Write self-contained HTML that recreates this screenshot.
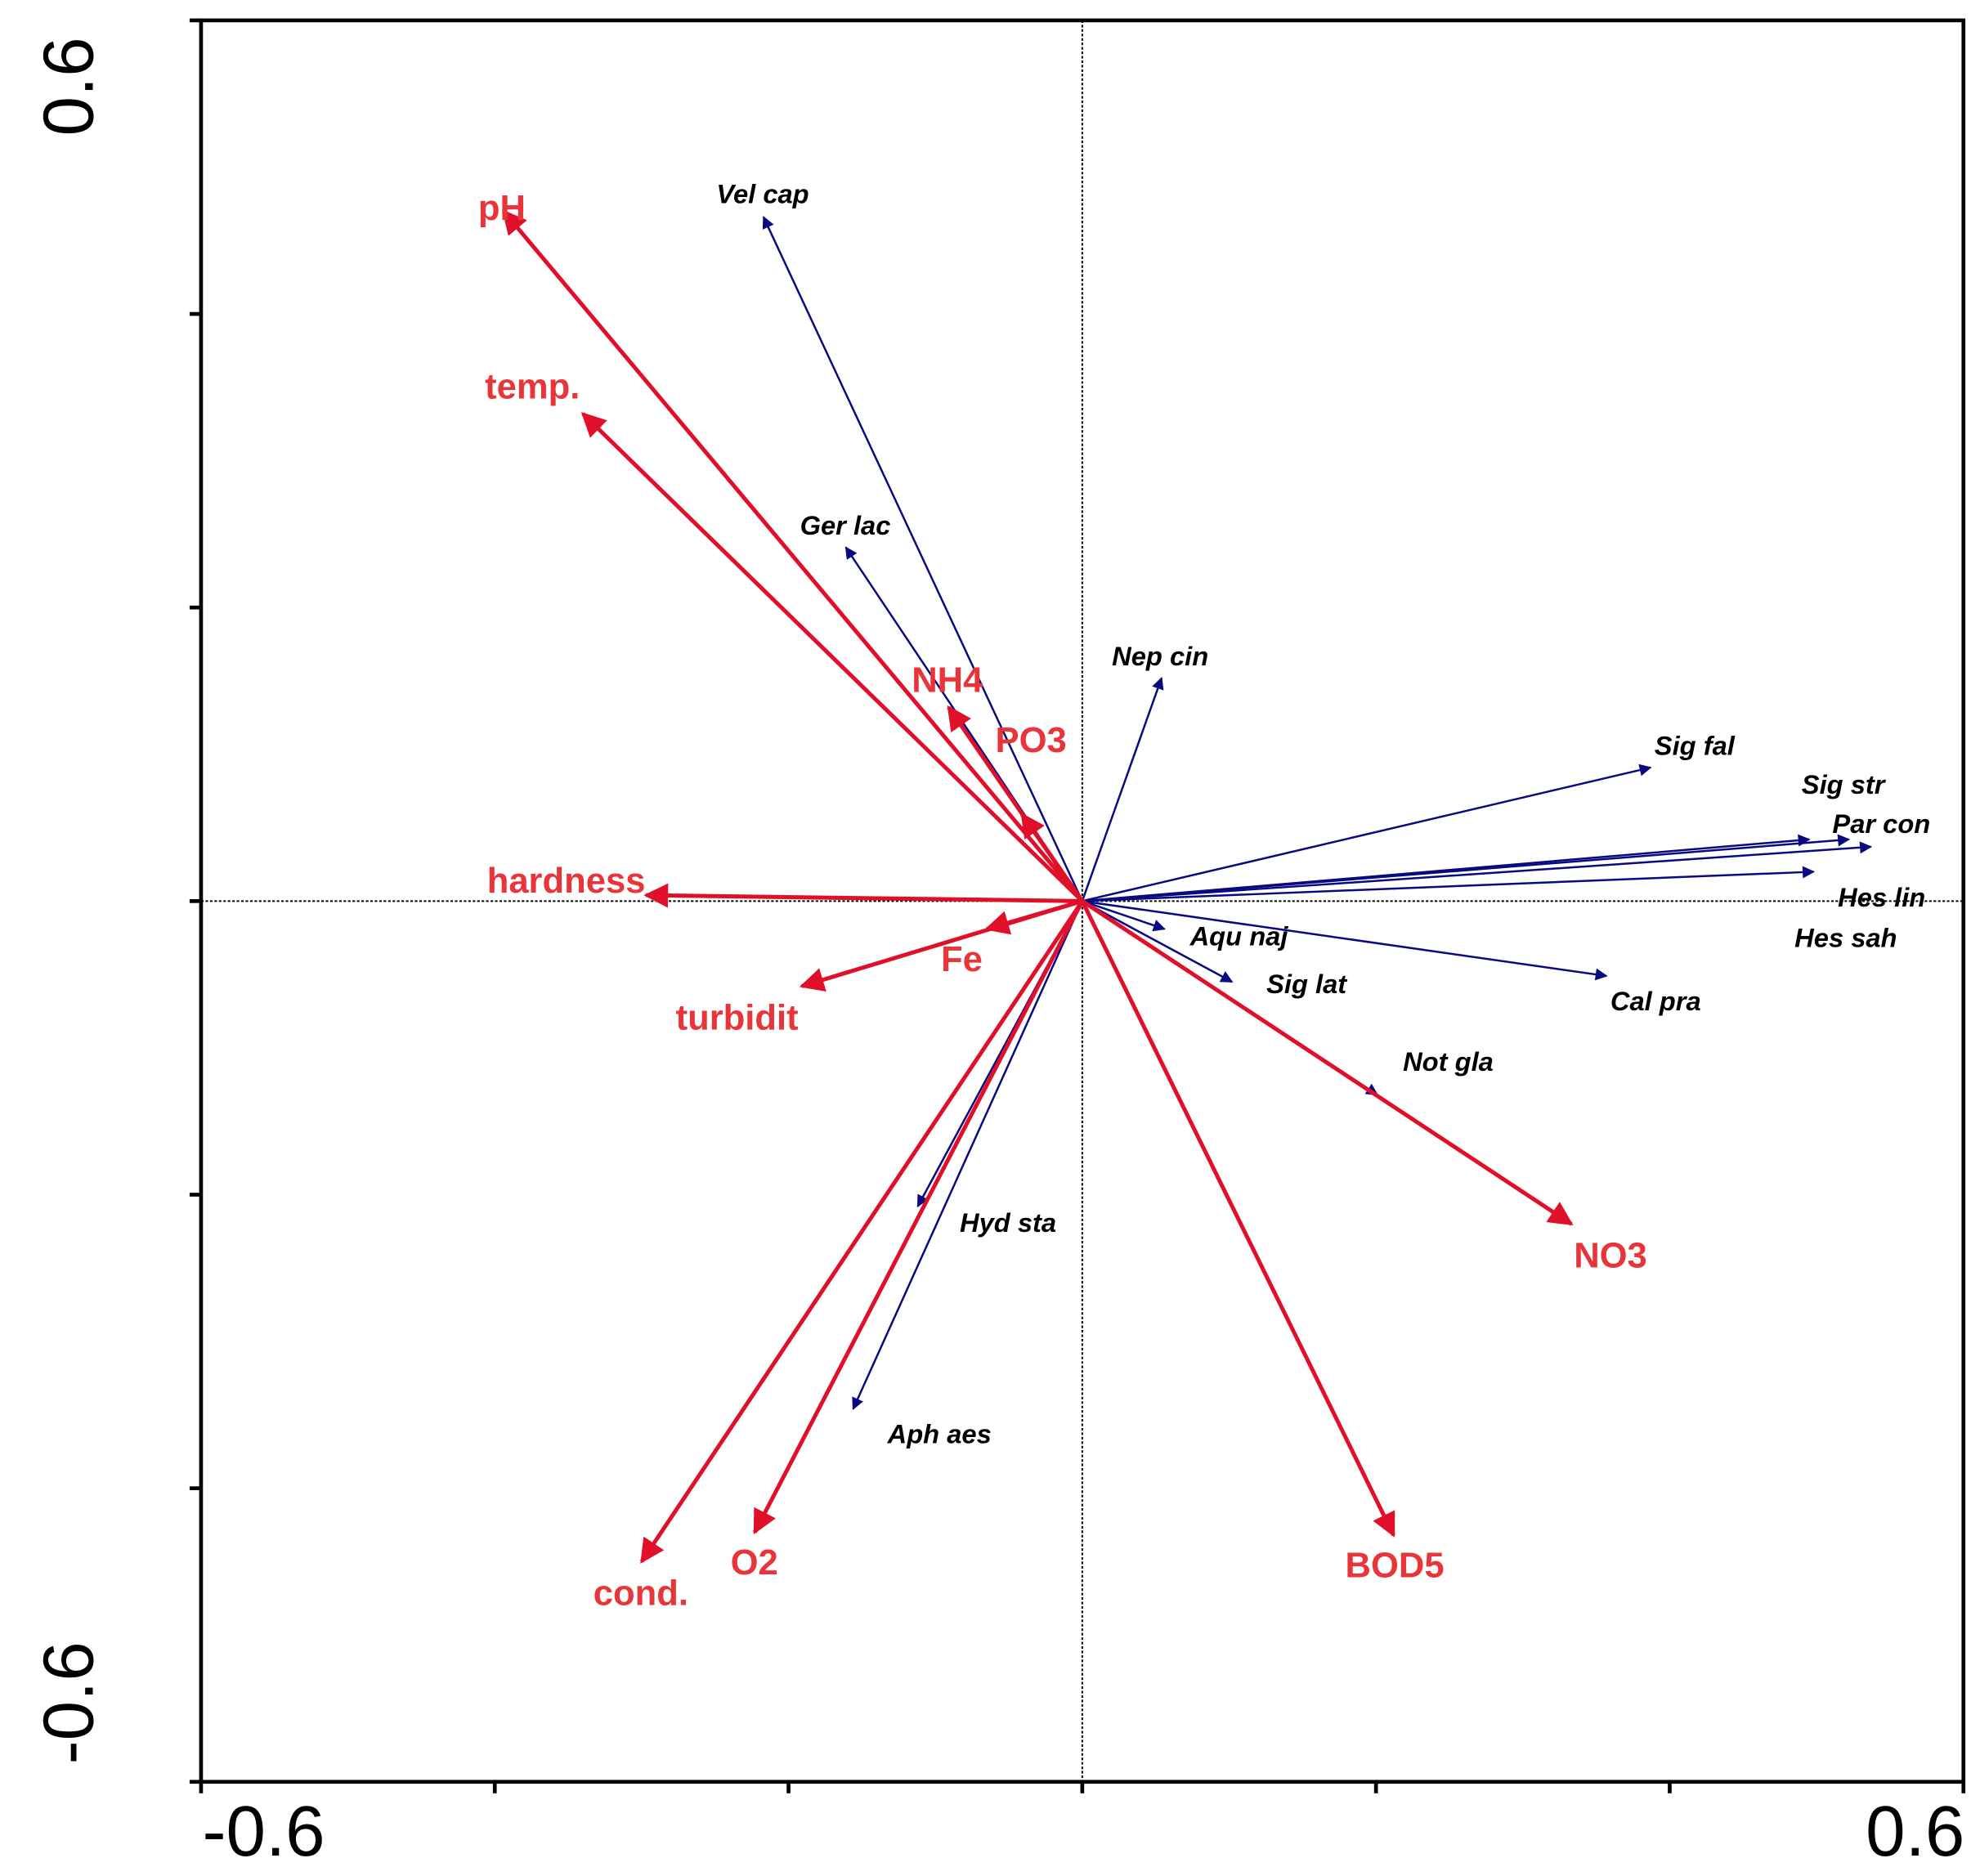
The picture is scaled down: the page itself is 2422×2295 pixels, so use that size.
<!DOCTYPE html>
<html><head><meta charset="utf-8"><style>
html,body{margin:0;padding:0;background:#fff;}
svg{display:block;}
.env{font-family:"Liberation Sans Narrow","Liberation Sans",sans-serif;font-weight:bold;font-size:28px;fill:#e8353a;}
.sp{font-family:"Liberation Sans Narrow","Liberation Sans",sans-serif;font-weight:bold;font-style:italic;font-size:21px;fill:#000;}
.tick{font-family:"Liberation Sans",sans-serif;font-size:56px;fill:#000;}
</style></head><body>
<svg id="chart" width="2422" height="2295" viewBox="0 0 1556 1474" preserveAspectRatio="none">
<defs>
<marker id="redHead" viewBox="0 0 10 10" refX="9" refY="5" markerWidth="7" markerHeight="6" markerUnits="strokeWidth" orient="auto"><path d="M0,0 L10,5 L0,10 z" fill="#e0102a"/></marker>
<marker id="blueHead" viewBox="0 0 10 10" refX="9" refY="5" markerWidth="9" markerHeight="6" markerUnits="strokeWidth" orient="auto"><path d="M0,0 L10,5 L0,10 z" fill="#0a0a80"/></marker>
</defs>
<g id="axes"></g>
<g id="species"></g>
<g id="env"></g>
</svg>
<script>
// Environmental variables
const envNames = ["pH","temp.","NH4","PO3","hardness","Fe","turbidit","cond.","O2","BOD5","NO3"];
const envX = [-0.394,-0.340,-0.091,-0.041,-0.297,-0.065,-0.191,-0.300,-0.223,0.212,0.333];
const envY = [0.470,0.332,0.132,0.059,0.004,-0.019,-0.058,-0.450,-0.430,-0.432,-0.220];
// Species
const spNames = ["Vel cap","Ger lac","Nep cin","Sig fal","Sig str","Par con","Hes lin","Hes sah","Cal pra","Not gla","Sig lat","Aqu naj","Hyd sta","Aph aes"];
const spX = [-0.217,-0.161,0.054,0.387,0.495,0.522,0.537,0.498,0.357,0.201,0.102,0.056,-0.112,-0.156];
const spY = [0.466,0.241,0.152,0.091,0.042,0.042,0.037,0.020,-0.051,-0.132,-0.055,-0.019,-0.208,-0.346];
const tickValues = [-0.6,-0.4,-0.2,0,0.2,0.4,0.6];
// label offsets (px from arrow tip)
const envLab = [[-20,7],[-77,-12],[-29,-12],[-21,-49],[-125,-2],[-36,33],[-99,34],[-38,34],[-19,33],[-38,33],[2,34]];
const spLab = [[-37,-11],[-36,-10],[-39,-10],[3,-10],[-6,-36],[-13,-5],[-26,47],[-15,59],[3,27],[20,-19],[27,9],[20,13],[33,20],[27,27]];

const L=158,R=1543,T=16,B=1400;
const sx=v=>L+(v+0.6)/1.2*(R-L);
const sy=v=>B-(v+0.6)/1.2*(B-T);
const NS="http://www.w3.org/2000/svg";
function mk(tag,attrs,parent){const e=document.createElementNS(NS,tag);for(const k in attrs)e.setAttribute(k,attrs[k]);parent.appendChild(e);return e;}
const ax=document.getElementById('axes');
const cx=sx(0),cy=sy(0);
let e;
e=mk('line',{x1:L,y1:cy,x2:R,y2:cy,stroke:'#000','stroke-width':1.3,'stroke-dasharray':'2,1.5'},ax);


e=mk('line',{x1:cx,y1:T,x2:cx,y2:B,stroke:'#000','stroke-width':1.3,'stroke-dasharray':'2,1.5'},ax);


e=mk('rect',{x:L,y:T,width:R-L,height:B-T,fill:'none',stroke:'#000','stroke-width':3},ax);


tickValues.forEach(v=>{
  e=mk('line',{x1:sx(v),y1:B,x2:sx(v),y2:B+9,stroke:'#000','stroke-width':3},ax);
  
  
  e=mk('line',{x1:L-9,y1:sy(v),x2:L,y2:sy(v),stroke:'#000','stroke-width':3},ax);
  
  
});
e=mk('text',{x:L+1,y:1458,'text-anchor':'start',class:'tick'},ax);e.textContent='-0.6';


e=mk('text',{x:R+1,y:1458,'text-anchor':'end',class:'tick'},ax);e.textContent='0.6';


e=mk('text',{x:0,y:0,'text-anchor':'middle',class:'tick',transform:'translate(73,68) rotate(-90)'},ax);e.textContent='0.6';


e=mk('text',{x:0,y:0,'text-anchor':'middle',class:'tick',transform:'translate(73,1338) rotate(-90)'},ax);e.textContent='-0.6';



const spG=document.getElementById('species');
spNames.forEach((n,i)=>{
  const x=sx(spX[i]),y=sy(spY[i]);
  e=mk('line',{x1:cx,y1:cy,x2:x,y2:y,stroke:'#0a0a80','stroke-width':1.6,'marker-end':'url(#blueHead)'},spG);
  
  
  e=mk('text',{x:x+spLab[i][0],y:y+spLab[i][1],class:'sp'},spG);e.textContent=n;
  
  
});
const envG=document.getElementById('env');
envNames.forEach((n,i)=>{
  const x=sx(envX[i]),y=sy(envY[i]);
  e=mk('line',{x1:cx,y1:cy,x2:x,y2:y,stroke:'#e0102a','stroke-width':3.2,'marker-end':'url(#redHead)'},envG);
  
  
  e=mk('text',{x:x+envLab[i][0],y:y+envLab[i][1],class:'env'},envG);e.textContent=n;
  
  
});
</script>
</body></html>
